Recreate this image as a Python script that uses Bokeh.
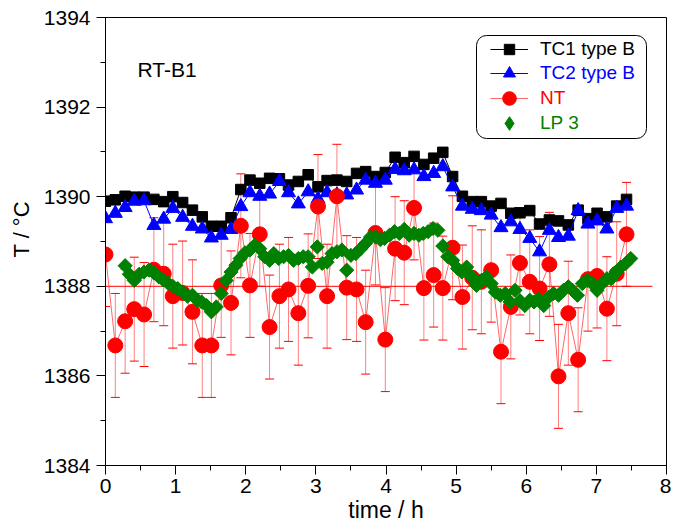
import numpy as np
from bokeh.plotting import figure
from bokeh.models import (ColumnDataSource, Whisker, TeeHead, Legend, LegendItem,
                          SingleIntervalTicker, Label, BoxAnnotation, Range1d)
from bokeh.embed import file_html
from bokeh.resources import INLINE

# ---------------- data ----------------
TIME_TC = [0.00, 0.14, 0.28, 0.41, 0.55, 0.69, 0.83, 0.96, 1.10, 1.24,
           1.38, 1.51, 1.65, 1.79, 1.93, 2.06, 2.20, 2.34, 2.48, 2.61,
           2.75, 2.89, 3.03, 3.16, 3.30, 3.44, 3.58, 3.71, 3.85, 3.99,
           4.13, 4.26, 4.40, 4.54, 4.68, 4.81, 4.95, 5.09, 5.23, 5.36,
           5.50, 5.64, 5.78, 5.91, 6.05, 6.19, 6.33, 6.46, 6.60, 6.74,
           6.88, 7.01, 7.15, 7.29, 7.43]

TC1 = [1389.90, 1389.93, 1390.01, 1389.99, 1389.99, 1389.94, 1389.89, 1390.00, 1389.87, 1389.70,
       1389.55, 1389.34, 1389.34, 1389.53, 1390.16, 1390.37, 1390.30, 1390.41, 1390.40, 1390.26,
       1390.34, 1390.49, 1390.22, 1390.36, 1390.37, 1390.34, 1390.52, 1390.56, 1390.45, 1390.54,
       1390.88, 1390.76, 1390.90, 1390.72, 1390.86, 1390.99, 1390.45, 1390.01, 1389.89, 1389.89,
       1389.79, 1389.85, 1389.63, 1389.64, 1389.69, 1389.39, 1389.48, 1389.46, 1389.37, 1389.70,
       1389.51, 1389.63, 1389.55, 1389.79, 1389.94]

TC2 = [1389.51, 1389.63, 1389.76, 1389.90, 1389.91, 1389.36, 1389.50, 1389.74, 1389.54, 1389.34,
       1389.28, 1389.08, 1389.14, 1389.27, 1389.78, 1390.09, 1390.01, 1390.06, 1390.34, 1390.09,
       1389.84, 1390.11, 1389.95, 1390.09, 1390.04, 1390.04, 1390.15, 1390.37, 1390.30, 1390.37,
       1390.61, 1390.58, 1390.60, 1390.45, 1390.52, 1390.67, 1390.22, 1389.79, 1389.72, 1389.69,
       1389.59, 1389.31, 1389.44, 1389.27, 1389.07, 1388.77, 1389.25, 1389.09, 1389.12, 1389.69,
       1389.39, 1389.46, 1389.28, 1389.74, 1389.79]

NT = [1388.71, 1386.68, 1387.22, 1387.49, 1387.37, 1388.37, 1388.28, 1387.78, 1387.85, 1387.43,
      1386.68, 1386.68, 1388.02, 1387.63, 1389.35, 1388.02, 1389.16, 1387.09, 1387.78, 1387.93,
      1387.40, 1388.01, 1389.78, 1387.78, 1390.01, 1387.97, 1387.93, 1387.20, 1389.19, 1386.81,
      1388.84, 1388.75, 1389.75, 1387.96, 1388.25, 1387.96, 1388.86, 1387.76, 1388.19, 1388.10,
      1388.36, 1386.54, 1387.54, 1388.52, 1388.10, 1387.95, 1388.49, 1385.99, 1387.40, 1386.36,
      1388.16, 1388.23, 1387.50, 1388.28, 1389.16]
NT_ERR = 1.16

TIME_LP = [0.28, 0.34, 0.41, 0.48, 0.55, 0.62, 0.69, 0.76, 0.82, 0.89,
           0.96, 1.03, 1.10, 1.17, 1.24, 1.31, 1.37, 1.44, 1.51, 1.58,
           1.65, 1.72, 1.79, 1.86, 1.92, 1.99, 2.06, 2.13, 2.20, 2.27,
           2.34, 2.40, 2.47, 2.54, 2.61, 2.68, 2.75, 2.82, 2.89, 2.95,
           3.02, 3.09, 3.16, 3.23, 3.30, 3.37, 3.44, 3.50, 3.57, 3.64,
           3.71, 3.78, 3.85, 3.92, 3.98, 4.05, 4.12, 4.19, 4.26, 4.33,
           4.40, 4.47, 4.53, 4.60, 4.67, 4.74, 4.81, 4.88, 4.95, 5.02,
           5.08, 5.15, 5.22, 5.29, 5.36, 5.43, 5.50, 5.56, 5.63, 5.70,
           5.77, 5.84, 5.91, 5.98, 6.05, 6.11, 6.18, 6.25, 6.32, 6.39,
           6.46, 6.53, 6.60, 6.66, 6.73, 6.80, 6.87, 6.94, 7.01, 7.08,
           7.15, 7.21, 7.28, 7.35, 7.42, 7.49]

LP3 = [1388.46, 1388.27, 1388.13, 1388.27, 1388.32, 1388.36, 1388.30, 1388.21, 1388.15, 1388.07,
       1388.00, 1387.95, 1387.87, 1387.78, 1387.80, 1387.69, 1387.65, 1387.57, 1387.43, 1387.54,
       1387.84, 1388.13, 1388.32, 1388.47, 1388.62, 1388.75, 1388.81, 1388.92, 1388.84, 1388.66,
       1388.58, 1388.73, 1388.62, 1388.66, 1388.69, 1388.58, 1388.62, 1388.66, 1388.66, 1388.43,
       1388.88, 1388.51, 1388.54, 1388.73, 1388.77, 1388.81, 1388.36, 1388.69, 1388.73, 1388.84,
       1388.96, 1389.10, 1389.10, 1389.04, 1389.07, 1389.14, 1389.22, 1389.18, 1389.27, 1389.14,
       1389.18, 1389.14, 1389.18, 1389.22, 1389.29, 1389.25, 1388.90, 1388.66, 1388.58, 1388.40,
       1388.32, 1388.43, 1388.21, 1388.02, 1388.13, 1388.21, 1388.06, 1387.87, 1387.80, 1387.84,
       1387.65, 1387.91, 1387.68, 1387.57, 1387.69, 1387.65, 1387.72, 1387.57, 1387.76, 1387.84,
       1387.80, 1387.91, 1387.99, 1387.91, 1387.80, 1388.06, 1388.13, 1388.06, 1387.91, 1388.06,
       1388.17, 1388.17, 1388.32, 1388.43, 1388.51, 1388.62]

REF_X = [0.0, 7.8]
REF_Y = [1388.0, 1388.0]

X_RANGE = (0, 8)
Y_RANGE = (1384, 1394)

FONT = "Liberation Sans"
BLACK, BLUE, RED, GREEN = "#000000", "#0000FF", "#FF0000", "#008000"

# ---------------- figure ----------------
p = figure(frame_width=561, frame_height=448,
           x_range=Range1d(*X_RANGE), y_range=Range1d(*Y_RANGE),
           output_backend="svg", toolbar_location=None,
           min_border_left=105, min_border_right=5, min_border_top=17, min_border_bottom=56)
p.xgrid.visible = False
p.ygrid.visible = False
p.outline_line_color = "black"
p.outline_line_alpha = 1
p.background_fill_color = "white"
p.border_fill_color = "white"

p.xaxis.ticker = SingleIntervalTicker(interval=1, num_minor_ticks=2)
p.yaxis.ticker = SingleIntervalTicker(interval=2, num_minor_ticks=2)
for ax in (p.xaxis[0], p.yaxis[0]):
    ax.major_tick_in = 0
    ax.major_tick_out = 9
    ax.minor_tick_in = 0
    ax.minor_tick_out = 5
    ax.axis_line_color = "black"
    ax.major_tick_line_color = "black"
    ax.minor_tick_line_color = "black"
    ax.major_label_text_font = FONT
    ax.major_label_text_font_size = "21px"
    ax.major_label_text_color = "black"
p.xaxis.major_label_standoff = 4
p.yaxis.major_label_standoff = 6
p.xaxis.axis_label = "time / h"
p.xaxis.axis_label_text_font = FONT
p.xaxis.axis_label_text_font_size = "23px"
p.xaxis.axis_label_text_font_style = "normal"
p.xaxis.axis_label_text_color = "black"
p.xaxis.axis_label_standoff = 1

# y title (non-breaking spaces in front lift it above the frame centre, as in the reference)
p.yaxis.axis_label = "\u00a0" * 4 + "T / °C"
p.yaxis.axis_label_text_font = FONT
p.yaxis.axis_label_text_font_size = "22px"
p.yaxis.axis_label_text_font_style = "normal"
p.yaxis.axis_label_text_color = "black"
p.yaxis.axis_label_standoff = 7

# ---------------- data glyphs ----------------
src_nt = ColumnDataSource(dict(t=TIME_TC, v=NT,
                               lo=[v - NT_ERR for v in NT],
                               hi=[v + NT_ERR for v in NT]))

tc1_line = p.line(TIME_TC, TC1, line_color=BLACK, line_width=1)
tc1_sc = p.scatter(TIME_TC, TC1, marker="square", size=10.5, fill_color=BLACK, line_color=BLACK)

tc2_line = p.line(TIME_TC, TC2, line_color=BLUE, line_width=1)
tc2_sc = p.scatter(TIME_TC, TC2, marker="triangle", size=14, fill_color=BLUE, line_color=BLUE)

p.line(REF_X, REF_Y, line_color=RED, line_width=1)

whisk = Whisker(source=src_nt, base="t", lower="lo", upper="hi",
                line_color=RED, line_alpha=0.5, line_width=1,
                upper_head=TeeHead(size=9, line_color=RED, line_width=1),
                lower_head=TeeHead(size=9, line_color=RED, line_width=1))
p.add_layout(whisk)

nt_line = p.line("t", "v", source=src_nt, line_color=RED, line_alpha=0.6, line_width=1)
nt_sc = p.scatter("t", "v", source=src_nt, marker="circle", size=15, fill_color=RED, line_color=RED)

# diamond key for the legend: drawn first, fully covered by the rotated squares on top
lp_key = p.scatter(TIME_LP, LP3, marker="diamond", size=12,
                   fill_color=GREEN, line_color=GREEN)
lp_sc = p.scatter(TIME_LP, LP3, marker="square", angle=np.pi / 4, size=10,
                  fill_color=GREEN, line_color=GREEN)

# ---------------- legend ----------------
box = BoxAnnotation(left=371, right=541, top=430, bottom=327,
                    left_units="screen", right_units="screen",
                    top_units="screen", bottom_units="screen",
                    fill_color="white", fill_alpha=1, line_color="black",
                    line_width=1, line_alpha=1, border_radius=10)
p.add_layout(box)

# (label, renderers, text colour, row centre from frame bottom, key height)
entries = [("TC1 type B", [tc1_line, tc1_sc], BLACK, 416, 26),
           ("TC2 type B", [tc2_line, tc2_sc], BLUE, 392, 30),
           ("NT", [nt_line, nt_sc], RED, 367, 34),
           ("LP 3", [lp_key], GREEN, 342, 34)]
for label, rends, col, yc, gh in entries:
    leg = Legend(items=[LegendItem(label=label, renderers=rends)],
                 location=(385, yc - gh / 2), orientation="vertical",
                 border_line_alpha=0, background_fill_alpha=0,
                 padding=0, margin=0, spacing=0,
                 glyph_width=38, glyph_height=gh, label_height=gh,
                 label_standoff=12, label_text_font=FONT,
                 label_text_font_size="19px", label_text_color=col)
    p.add_layout(leg)

# ---------------- texts ----------------
p.add_layout(Label(x=32, y=396, x_units="screen", y_units="screen", text="RT-B1",
                   text_font=FONT, text_font_size="21px", text_color="black",
                   text_baseline="alphabetic", text_align="left"))

open("out.html", "w").write(file_html(p, INLINE))
